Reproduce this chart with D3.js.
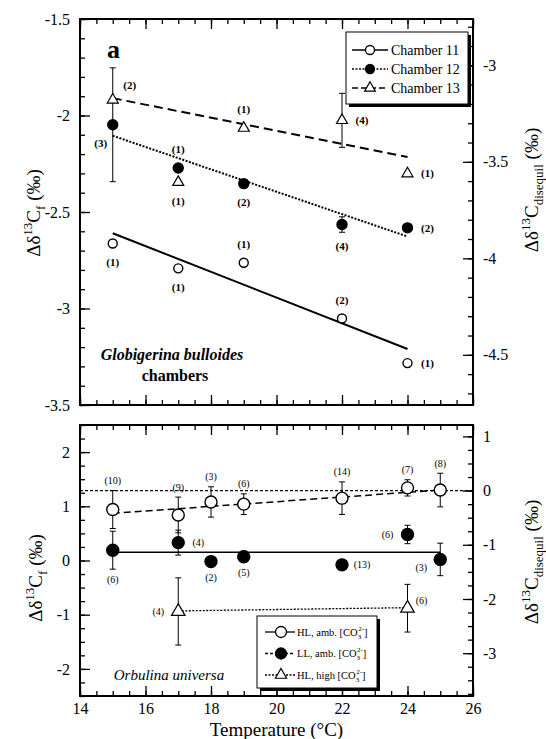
<!DOCTYPE html>
<html>
<head>
<meta charset="utf-8">
<script src="https://cdn.jsdelivr.net/npm/d3@7"></script>
<style>
body { margin: 0; background: #fff; }
svg text { font-family: "Liberation Serif", "Times New Roman", serif; fill: #000; }
</style>
</head>
<body>
<svg id="chart"></svg>
<script>
var width = 546, height = 739;

// ---- panel a : Globigerina bulloides chambers
var chamberTemps = [15, 17, 19, 22, 24];
var ch11 = [-2.663, -2.792, -2.763, -3.052, -3.283];
var ch11N = [1, 1, 1, 2, 1];
var ch12 = [-2.048, -2.272, -2.353, -2.565, -2.582];
var ch12Err = [0.295, 0, 0, 0.04, 0];
var ch12N = [3, 1, 2, 4, 2];
var ch13 = [-1.919, -2.346, -2.065, -2.025, -2.301];
var ch13Err = [0, 0, 0, 0.14, 0];
var ch13N = [2, 1, 1, 4, 1];
// fitted lines, values at 15 and 24 C
var fitTempsA = [15, 24];
var ch11Fit = [-2.61, -3.21];
var ch12Fit = [-2.105, -2.627];
var ch13Fit = [-1.91, -2.215];

// ---- panel b : Orbulina universa
var orbTemps = [15, 17, 18, 19, 22, 24, 25];
var hlAmb = [0.94, 0.84, 1.08, 1.04, 1.15, 1.34, 1.30];
var hlAmbErr = [0.35, 0.33, 0.28, 0.19, 0.30, 0.15, 0.31];
var hlAmbN = [10, 9, 3, 6, 14, 7, 8];
var llAmb = [0.19, 0.33, -0.02, 0.07, -0.08, 0.48, 0.02];
var llAmbErr = [0.35, 0.23, 0, 0.1, 0.05, 0.17, 0.3];
var llAmbN = [6, 4, 2, 5, 13, 6, 3];
var hlHighTemps = [17, 24];
var hlHigh = [-0.94, -0.88];
var hlHighErr = [0.62, 0.44];
var hlHighN = [4, 6];
var fitTempsB = [15, 25];
var hlAmbFit = [0.87, 1.30];
var llAmbFit = [0.15, 0.15];
var hlHighFit = [-0.93, -0.87];   // at 17 and 24 C

// where the (n) labels go
var ch11Where = ["b", "b", "t", "t", "r"];
var ch12Where = ["lb", "t", "b", "b", "r"];
var ch13Where = ["tr", "b", "t", "r", "r"];
var hlAmbWhere = ["t", "t", "t", "t", "t", "t", "t"];
var llAmbWhere = ["b", "r", "b", "b", "r", "l", "ld"];
var hlHighWhere = ["l", "rt"];

// ticks
var xMajor = [14, 16, 18, 20, 22, 24, 26];
var xMinor = d3.range(14, 26.01, 0.5);
var yAMajor = [-1.5, -2, -2.5, -3, -3.5];
var yAMinor = d3.range(-3.5, -1.49, 0.1);
var yARMajor = [-3, -3.5, -4, -4.5];
var yARMinor = d3.range(-4.7, -2.75, 0.1);
var yBMajor = [-2, -1, 0, 1, 2];
var yBMinor = d3.range(-2.5, 2.51, 0.25);
var yBRMajor = [-3, -2, -1, 0, 1];
var yBRMinor = d3.range(-3.75, 1.21, 0.25);

var svg = d3.select("#chart").attr("width", width).attr("height", height);

var x = d3.scaleLinear().domain([14, 26]).range([80, 473]);
var yA = d3.scaleLinear().domain([-3.5, -1.5]).range([405, 19]);
var yAR = d3.scaleLinear().domain([-4.76, -2.76]).range([405, 19]);
var yB = d3.scaleLinear().domain([-2.5, 2.5]).range([696, 425]);
var yBR = d3.scaleLinear().domain([-3.79, 1.21]).range([696, 425]);

function axis(gen, scale, vals, size, tx, ty, labels, pad) {
  var a = gen(scale).tickValues(vals).tickSize(-size).tickPadding(pad || 10)
    .tickFormat(labels ? function(d) { return String(d); } : "");
  var g = svg.append("g").attr("transform", "translate(" + tx + "," + ty + ")").call(a);
  g.select(".domain").remove();
  g.selectAll("line").attr("stroke", "#000").attr("stroke-width", 1.3);
  g.selectAll("text").attr("font-size", 16).attr("font-family", "Liberation Serif");
  return g;
}

function frame(y, yR, top, bottom, yMaj, yMin, yRMaj, yRMin, xLabels) {
  axis(d3.axisLeft, y, yMin, 5, x(14), 0, false);
  axis(d3.axisLeft, y, yMaj, 10, x(14), 0, true);
  axis(d3.axisRight, yR, yRMin, 5, x(26), 0, false);
  axis(d3.axisRight, yR, yRMaj, 10, x(26), 0, true);
  axis(d3.axisTop, x, xMinor, 5, 0, top, false);
  axis(d3.axisTop, x, xMajor, 10, 0, top, false);
  axis(d3.axisBottom, x, xMinor, 5, 0, bottom, false);
  axis(d3.axisBottom, x, xMajor, 10, 0, bottom, xLabels, 7);
  svg.append("rect")
    .attr("x", x(14)).attr("y", top)
    .attr("width", x(26) - x(14)).attr("height", bottom - top)
    .attr("fill", "none").attr("stroke", "#000").attr("stroke-width", 2);
}

function fitLine(t, v, y, dash, w) {
  svg.append("line")
    .attr("x1", x(t[0])).attr("x2", x(t[1]))
    .attr("y1", y(v[0])).attr("y2", y(v[1]))
    .attr("stroke", "#000").attr("stroke-width", w)
    .attr("stroke-dasharray", dash);
}

function errBars(t, v, e, y) {
  t.forEach(function(d, i) {
    if (!e[i]) return;
    var cx = x(d), y1 = y(v[i] + e[i]), y2 = y(v[i] - e[i]);
    svg.append("line").attr("x1", cx).attr("x2", cx).attr("y1", y1).attr("y2", y2)
      .attr("stroke", "#000").attr("stroke-width", 1);
    [y1, y2].forEach(function(yy) {
      svg.append("line").attr("x1", cx - 3).attr("x2", cx + 3).attr("y1", yy).attr("y2", yy)
        .attr("stroke", "#000").attr("stroke-width", 1);
    });
  });
}

function markers(t, v, y, type, r) {
  t.forEach(function(d, i) {
    var cx = x(d), cy = y(v[i]);
    if (type === "tri") {
      svg.append("path")
        .attr("d", d3.symbol().type(d3.symbolTriangle).size(r * r * 2.6)())
        .attr("transform", "translate(" + cx + "," + cy + ")")
        .attr("fill", "#fff").attr("stroke", "#000").attr("stroke-width", 1.2);
    } else {
      svg.append("circle").attr("cx", cx).attr("cy", cy).attr("r", r)
        .attr("fill", type === "filled" ? "#000" : "#fff")
        .attr("stroke", "#000").attr("stroke-width", 1.4);
    }
  });
}

var offsets = { r: [20, 0], l: [-20, 0], lb: [-12, 18], tr: [17, -15], rt: [14, -8], ld: [-19, 8] };

function nLabels(t, v, e, n, where, y, r, gap, fs, fw) {
  t.forEach(function(d, i) {
    var cx = x(d), cy = y(v[i]), err = e ? e[i] : 0, lx = cx, ly = cy;
    if (where[i] === "t") ly = Math.min(y(v[i] + err), cy - r) - gap;
    else if (where[i] === "b") ly = Math.max(y(v[i] - err), cy + r) + gap;
    else { lx = cx + offsets[where[i]][0]; ly = cy + offsets[where[i]][1]; }
    svg.append("text").attr("x", lx).attr("y", ly).attr("dy", "0.35em")
      .attr("text-anchor", "middle").attr("font-size", fs).attr("font-weight", fw)
      .text("(" + n[i] + ")");
  });
}

function yTitle(cx, cy, sub) {
  var t = svg.append("text").attr("transform", "translate(" + cx + "," + cy + ") rotate(-90)")
    .attr("text-anchor", "middle").attr("font-size", 19);
  t.append("tspan").text("\u0394\u03b4");
  t.append("tspan").attr("font-size", 13).attr("dy", -8).text("13");
  t.append("tspan").attr("dy", 8).text("C");
  t.append("tspan").attr("font-size", 13).attr("dy", 5).text(sub);
  t.append("tspan").attr("dy", -5).text(" (\u2030)");
}

// ================= panel a
frame(yA, yAR, 19, 405, yAMajor, yAMinor, yARMajor, yARMinor, false);

fitLine(fitTempsA, ch11Fit, yA, null, 2);
fitLine(fitTempsA, ch12Fit, yA, "2,1.5", 2);
fitLine(fitTempsA, ch13Fit, yA, "9,5", 2);

errBars(chamberTemps, ch12, ch12Err, yA);
errBars(chamberTemps, ch13, ch13Err, yA);
markers(chamberTemps, ch11, yA, "open", 4.5);
markers(chamberTemps, ch12, yA, "filled", 5);
markers(chamberTemps, ch13, yA, "tri", 4.5);
nLabels(chamberTemps, ch11, null, ch11N, ch11Where, yA, 4.5, 14, 11, "bold");
nLabels(chamberTemps, ch12, ch12Err, ch12N, ch12Where, yA, 5, 14, 11, "bold");
nLabels(chamberTemps, ch13, ch13Err, ch13N, ch13Where, yA, 4.5, 14, 11, "bold");

svg.append("text").attr("x", 107).attr("y", 58).attr("font-size", 26)
  .attr("font-weight", "bold").text("a");
svg.append("text").attr("x", 172).attr("y", 360).attr("text-anchor", "middle")
  .attr("font-size", 16).attr("font-weight", "bold").attr("font-style", "italic")
  .text("Globigerina bulloides");
svg.append("text").attr("x", 175).attr("y", 381).attr("text-anchor", "middle")
  .attr("font-size", 16).attr("font-weight", "bold").text("chambers");

// legend a
var legA = [
  { name: "Chamber 11", type: "open", dash: null },
  { name: "Chamber 12", type: "filled", dash: "2,1.5" },
  { name: "Chamber 13", type: "tri", dash: "6,3" }
];
svg.append("rect").attr("x", 349).attr("y", 35).attr("width", 122).attr("height", 72).attr("fill", "#000");
svg.append("rect").attr("x", 346).attr("y", 32).attr("width", 122).attr("height", 72)
  .attr("fill", "#fff").attr("stroke", "#000").attr("stroke-width", 1);
legA.forEach(function(d, i) {
  var ly = 50 + i * 19;
  svg.append("line").attr("x1", 352).attr("x2", 388).attr("y1", ly).attr("y2", ly)
    .attr("stroke", "#000").attr("stroke-width", 1.4).attr("stroke-dasharray", d.dash);
  if (d.type === "tri") {
    svg.append("path").attr("d", d3.symbol().type(d3.symbolTriangle).size(50)())
      .attr("transform", "translate(370," + ly + ")")
      .attr("fill", "#fff").attr("stroke", "#000").attr("stroke-width", 1.2);
  } else {
    svg.append("circle").attr("cx", 370).attr("cy", ly).attr("r", 4.5)
      .attr("fill", d.type === "filled" ? "#000" : "#fff").attr("stroke", "#000").attr("stroke-width", 1.3);
  }
  svg.append("text").attr("x", 391).attr("y", ly).attr("dy", "0.35em").attr("font-size", 14).text(d.name);
});

yTitle(40, 213, "f");
yTitle(538, 190, "disequil");

// ================= panel b
frame(yB, yBR, 425, 696, yBMajor, yBMinor, yBRMajor, yBRMinor, true);

svg.append("line").attr("x1", x(14)).attr("x2", x(26))
  .attr("y1", yBR(0)).attr("y2", yBR(0))
  .attr("stroke", "#000").attr("stroke-width", 1.2).attr("stroke-dasharray", "3,2");
fitLine(fitTempsB, hlAmbFit, yB, "7,4", 1.5);
fitLine(fitTempsB, llAmbFit, yB, null, 1.5);
fitLine(hlHighTemps, hlHighFit, yB, "2,1.5", 1.3);

errBars(orbTemps, hlAmb, hlAmbErr, yB);
errBars(orbTemps, llAmb, llAmbErr, yB);
errBars(hlHighTemps, hlHigh, hlHighErr, yB);
markers(orbTemps, hlAmb, yB, "open", 6);
markers(orbTemps, llAmb, yB, "filled", 6);
markers(hlHighTemps, hlHigh, yB, "tri", 5.5);
nLabels(orbTemps, hlAmb, hlAmbErr, hlAmbN, hlAmbWhere, yB, 6, 10, 10, "normal");
nLabels(orbTemps, llAmb, llAmbErr, llAmbN, llAmbWhere, yB, 6, 10, 10, "normal");
nLabels(hlHighTemps, hlHigh, hlHighErr, hlHighN, hlHighWhere, yB, 5.5, 10, 10, "normal");

svg.append("text").attr("x", 169).attr("y", 680).attr("text-anchor", "middle")
  .attr("font-size", 15).attr("font-style", "italic").text("Orbulina universa");

// legend b
var legB = [
  { name: "HL, amb. [CO", type: "open", dash: null },
  { name: "LL, amb. [CO", type: "filled", dash: "3,2" },
  { name: "HL, high [CO", type: "tri", dash: "2,1.5" }
];
svg.append("rect").attr("x", 260).attr("y", 619).attr("width", 120).attr("height", 72).attr("fill", "#000");
svg.append("rect").attr("x", 257).attr("y", 616).attr("width", 120).attr("height", 72)
  .attr("fill", "#fff").attr("stroke", "#000").attr("stroke-width", 1);
legB.forEach(function(d, i) {
  var ly = 632 + i * 21.5;
  svg.append("line").attr("x1", 265).attr("x2", 295).attr("y1", ly).attr("y2", ly)
    .attr("stroke", "#000").attr("stroke-width", 1.3).attr("stroke-dasharray", d.dash);
  if (d.type === "tri") {
    svg.append("path").attr("d", d3.symbol().type(d3.symbolTriangle).size(55)())
      .attr("transform", "translate(281," + ly + ")")
      .attr("fill", "#fff").attr("stroke", "#000").attr("stroke-width", 1.2);
  } else {
    svg.append("circle").attr("cx", 281).attr("cy", ly).attr("r", 5.5)
      .attr("fill", d.type === "filled" ? "#000" : "#fff").attr("stroke", "#000").attr("stroke-width", 1.3);
  }
  var t = svg.append("text").attr("x", 297).attr("y", ly + 3.5).attr("font-size", 10.5);
  t.append("tspan").text(d.name);
  t.append("tspan").attr("font-size", 7).attr("dy", 3).text("3");
  t.append("tspan").attr("font-size", 7).attr("dy", -8).attr("dx", -3).text("2-");
  t.append("tspan").attr("dy", 5).text("]");
});

yTitle(42, 578, "f");
yTitle(538, 562, "disequil");

svg.append("text").attr("x", (x(14) + x(26)) / 2).attr("y", 736).attr("text-anchor", "middle")
  .attr("font-size", 19).text("Temperature (\u00b0C)");
</script>
</body>
</html>
